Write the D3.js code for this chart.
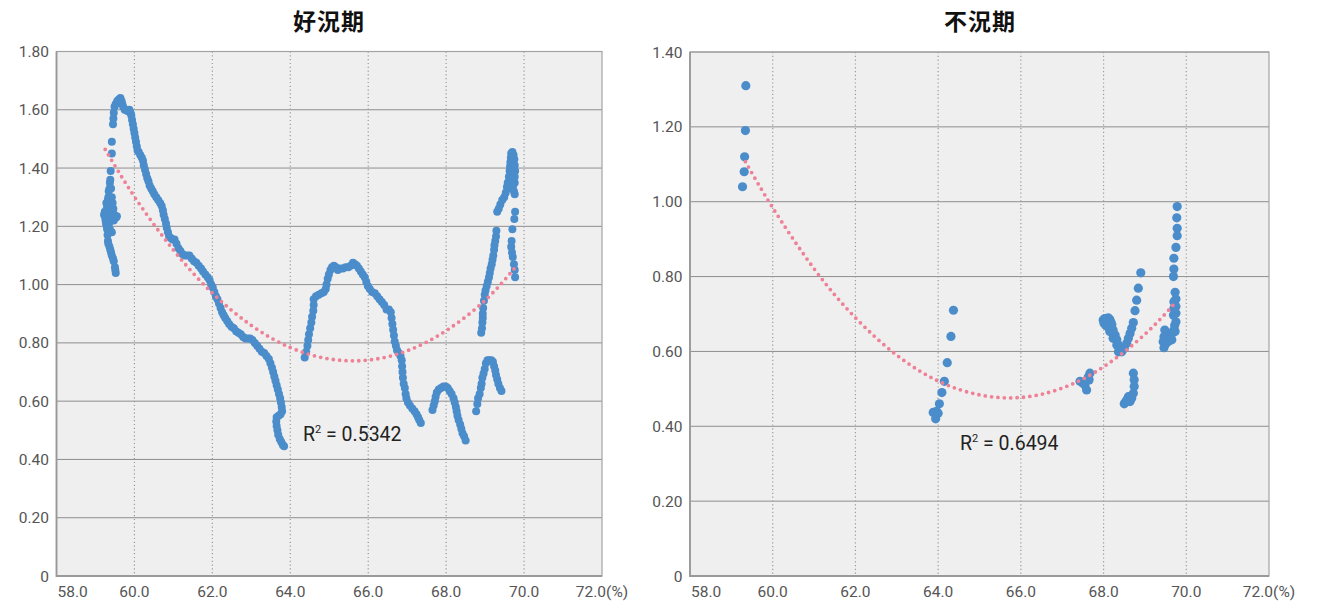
<!DOCTYPE html>
<html>
<head>
<meta charset="utf-8">
<style>
body { margin: 0; background: #fff; }
text { font-family: Roboto, "Noto Sans", sans-serif; }
</style>
</head>
<body>
<svg id="chart" width="1331" height="601"></svg>
<script src="https://cdn.jsdelivr.net/npm/d3@7/dist/d3.min.js"></script>
<script>

// 好況期 scatter [x(%), y]
var boomPoints = [
  [59.52,1.04],[59.51,1.05],[59.50,1.06],[59.47,1.08],[59.45,1.09],[59.42,1.10],[59.40,1.11],[59.38,1.12],
  [59.36,1.13],[59.33,1.14],[59.32,1.15],[59.31,1.17],[59.30,1.19],[59.29,1.20],[59.27,1.21],[59.26,1.22],
  [59.25,1.23],[59.22,1.24],[59.24,1.25],[59.27,1.24],[59.29,1.26],[59.31,1.27],[59.32,1.29],[59.33,1.30],
  [59.34,1.32],[59.36,1.33],[59.37,1.35],[59.38,1.36],[59.39,1.39],[59.42,1.45],[59.42,1.49],
  [59.47,1.22],[59.48,1.24],[59.53,1.23],[59.55,1.235],[59.46,1.26],[59.44,1.28],[59.42,1.30],[59.40,1.33],
  [59.35,1.27],[59.35,1.21],[59.33,1.23],[59.30,1.25],[59.28,1.28],[59.37,1.19],[59.42,1.18],[59.44,1.25],[59.39,1.29],
  [59.45,1.55],[59.46,1.57],[59.47,1.59],[59.49,1.61],[59.52,1.62],[59.56,1.63],[59.60,1.635],[59.64,1.64],
  [59.67,1.63],[59.69,1.62],[59.71,1.61],[59.75,1.60],[59.79,1.60],[59.83,1.595],[59.87,1.60],[59.90,1.59],
  [59.92,1.58],[59.94,1.565],[59.96,1.55],[59.98,1.535],[60.00,1.52],[60.02,1.505],[60.04,1.49],[60.06,1.475],
  [60.08,1.46],[60.11,1.455],[60.15,1.445],[60.19,1.435],[60.22,1.425],[60.24,1.41],[60.27,1.395],[60.30,1.38],
  [60.33,1.365],[60.36,1.355],[60.39,1.34],[60.43,1.33],[60.47,1.32],[60.51,1.31],[60.56,1.30],[60.61,1.29],
  [60.66,1.28],[60.70,1.27],[60.73,1.255],[60.75,1.24],[60.78,1.225],[60.81,1.21],[60.83,1.195],[60.86,1.18],
  [60.89,1.165],[60.93,1.16],[60.98,1.155],[61.03,1.155],[61.08,1.14],[61.13,1.125],[61.18,1.115],[61.23,1.105],
  [61.29,1.10],[61.35,1.10],[61.41,1.10],[61.47,1.09],[61.53,1.08],[61.59,1.075],[61.65,1.065],[61.71,1.055],
  [61.76,1.045],[61.82,1.035],[61.88,1.025],[61.93,1.015],[61.97,1.00],[62.01,0.99],[62.05,0.975],[62.09,0.96],
  [62.13,0.95],[62.17,0.935],[62.21,0.92],[62.25,0.905],[62.29,0.895],[62.33,0.885],[62.38,0.875],[62.43,0.865],
  [62.49,0.855],[62.55,0.85],[62.61,0.84],[62.67,0.835],[62.73,0.83],[62.79,0.82],[62.85,0.815],[62.91,0.815],
  [62.97,0.815],[63.03,0.81],[63.09,0.80],[63.15,0.79],[63.21,0.78],[63.27,0.77],[63.33,0.765],[63.39,0.755],
  [63.45,0.745],[63.49,0.73],[63.53,0.715],[63.56,0.70],[63.59,0.685],[63.62,0.67],[63.65,0.655],[63.68,0.64],
  [63.71,0.625],[63.74,0.61],[63.76,0.595],[63.78,0.58],[63.79,0.565],[63.75,0.555],[63.70,0.55],[63.65,0.545],
  [63.64,0.53],[63.65,0.515],[63.67,0.50],[63.69,0.485],[63.73,0.47],[63.77,0.46],[63.81,0.45],[63.84,0.445],
  [64.37,0.75],[64.41,0.77],[64.44,0.79],[64.46,0.81],[64.48,0.83],[64.51,0.85],[64.54,0.87],[64.56,0.89],
  [64.59,0.91],[64.60,0.93],[64.60,0.95],[64.66,0.96],[64.73,0.965],[64.80,0.97],[64.86,0.975],[64.91,0.985],
  [64.93,1.00],[64.96,1.02],[64.99,1.035],[65.03,1.05],[65.07,1.06],[65.12,1.065],[65.17,1.06],[65.22,1.05],
  [65.28,1.055],[65.35,1.055],[65.42,1.06],[65.49,1.06],[65.55,1.065],[65.61,1.075],[65.66,1.07],[65.71,1.065],
  [65.76,1.055],[65.81,1.045],[65.86,1.035],[65.91,1.025],[65.95,1.01],[65.99,0.995],[66.04,0.985],[66.10,0.975],
  [66.17,0.97],[66.23,0.96],[66.29,0.95],[66.35,0.94],[66.41,0.93],[66.47,0.915],[66.53,0.915],[66.58,0.905],
  [66.60,0.885],[66.62,0.865],[66.64,0.845],[66.66,0.825],[66.68,0.805],[66.71,0.79],[66.74,0.775],[66.78,0.765],
  [66.83,0.755],[66.86,0.74],[66.87,0.72],[66.88,0.70],[66.89,0.68],[66.91,0.66],[66.94,0.645],[66.96,0.625],
  [66.98,0.61],[67.02,0.595],[67.07,0.585],[67.13,0.575],[67.19,0.565],[67.24,0.555],[67.28,0.545],[67.31,0.535],[67.35,0.525],
  [67.65,0.57],[67.68,0.585],[67.71,0.60],[67.73,0.615],[67.76,0.63],[67.81,0.64],[67.87,0.645],[67.93,0.65],
  [67.99,0.65],[68.04,0.645],[68.09,0.635],[68.14,0.625],[68.19,0.61],[68.22,0.595],[68.25,0.58],[68.27,0.565],
  [68.29,0.55],[68.32,0.535],[68.36,0.52],[68.39,0.505],[68.42,0.49],[68.46,0.48],[68.50,0.465],
  [68.77,0.565],[68.80,0.59],[68.82,0.61],[68.86,0.625],[68.89,0.645],[68.91,0.66],[68.93,0.68],[68.96,0.695],
  [68.99,0.71],[69.02,0.73],[69.06,0.74],[69.11,0.74],[69.16,0.74],[69.20,0.735],[69.23,0.72],[69.26,0.705],
  [69.28,0.69],[69.31,0.675],[69.34,0.66],[69.38,0.645],[69.42,0.635],
  [68.90,0.835],[68.92,0.85],[68.93,0.87],[68.94,0.885],[68.94,0.90],[68.95,0.92],[68.97,0.945],[68.99,0.965],
  [69.01,0.98],[69.04,0.995],[69.07,1.01],[69.10,1.025],[69.12,1.04],[69.14,1.055],[69.17,1.07],[69.19,1.085],
  [69.21,1.10],[69.23,1.12],[69.24,1.135],[69.26,1.15],[69.28,1.165],[69.29,1.185],[69.31,1.25],[69.35,1.26],
  [69.39,1.275],[69.44,1.29],[69.49,1.30],[69.53,1.315],[69.56,1.335],[69.58,1.35],[69.61,1.37],[69.63,1.39],
  [69.64,1.405],[69.65,1.42],[69.66,1.435],[69.67,1.45],[69.70,1.455],[69.73,1.445],[69.75,1.43],[69.76,1.41],
  [69.77,1.39],[69.76,1.37],[69.76,1.35],[69.72,1.34],[69.68,1.33],[69.70,1.36],[69.74,1.32],[69.76,1.31],
  [69.77,1.25],[69.75,1.225],[69.70,1.19],[69.68,1.15],[69.67,1.13],[69.69,1.11],[69.71,1.095],[69.74,1.07],
  [69.76,1.05],[69.77,1.025]
];

// 不況期 scatter [x(%), y]
var slumpPoints = [
  [59.27,1.04],[59.31,1.08],[59.32,1.12],[59.34,1.19],[59.35,1.31],
  [63.88,0.437],[63.94,0.42],[63.96,0.44],[64.00,0.435],[64.03,0.46],[64.09,0.49],[64.15,0.52],[64.22,0.57],
  [64.31,0.64],[64.37,0.71],
  [67.43,0.52],[67.50,0.515],[67.55,0.51],[67.59,0.497],[67.63,0.532],[67.65,0.524],[67.67,0.542],
  [67.99,0.684],[68.03,0.688],[68.07,0.688],[68.11,0.69],[68.15,0.686],[68.01,0.675],[68.05,0.67],[68.10,0.666],
  [68.18,0.678],[68.20,0.671],[68.15,0.653],[68.23,0.657],[68.28,0.644],[68.23,0.635],[68.32,0.631],[68.36,0.617],
  [68.32,0.617],[68.40,0.604],[68.36,0.599],[68.44,0.599],[68.50,0.608],[68.56,0.622],[68.60,0.635],[68.64,0.648],
  [68.68,0.662],[68.72,0.677],[68.76,0.709],[68.80,0.737],[68.84,0.769],[68.90,0.810],
  [68.72,0.542],[68.74,0.524],[68.74,0.506],[68.72,0.488],[68.68,0.475],[68.64,0.466],[68.60,0.479],[68.56,0.470],
  [68.50,0.460],[68.53,0.465],
  [69.78,0.987],[69.77,0.957],[69.78,0.929],[69.78,0.909],[69.75,0.878],[69.70,0.849],[69.70,0.820],[69.69,0.800],
  [69.73,0.758],[69.75,0.740],[69.75,0.720],[69.75,0.702],[69.75,0.679],[69.73,0.653],[69.65,0.648],[69.56,0.648],
  [69.48,0.657],[69.46,0.639],[69.44,0.626],[69.46,0.610],[69.56,0.626],[69.65,0.631],[69.70,0.657],[69.69,0.697],
  [69.70,0.715],[69.70,0.733],[69.72,0.67],[69.60,0.64],[69.50,0.62]
];

// 多項式近似
var boomTrendX = [59.25, 60, 61, 62, 63, 64, 65, 66, 67, 68, 69, 69.78];
var boomTrendY = [1.464, 1.302, 1.119, 0.971, 0.860, 0.784, 0.745, 0.741, 0.773, 0.842, 0.946, 1.06];
var slumpTrendX = [59.34, 60, 61, 62, 63, 64, 65, 66, 67, 68, 69, 69.75];
var slumpTrendY = [1.107, 0.984, 0.821, 0.690, 0.590, 0.521, 0.484, 0.477, 0.502, 0.559, 0.646, 0.732];

var titles = ["好況期", "不況期"];
var r2Labels = ["0.5342", "0.6494"];
var xTicks = [58, 60, 62, 64, 66, 68, 70, 72];
var boomYTicks = [0, 0.2, 0.4, 0.6, 0.8, 1.0, 1.2, 1.4, 1.6, 1.8];
var slumpYTicks = [0, 0.2, 0.4, 0.6, 0.8, 1.0, 1.2, 1.4];

var svg = d3.select("#chart");

var panels = [
  { title: titles[0], pts: boomPoints, tx: boomTrendX, ty: boomTrendY, yTicks: boomYTicks,
    left: 56.5, right: 602, top: 51.5, bottom: 576, r: 4, r2: r2Labels[0], r2x: 303, r2y: 441, titleX: 329 },
  { title: titles[1], pts: slumpPoints, tx: slumpTrendX, ty: slumpTrendY, yTicks: slumpYTicks,
    left: 690, right: 1269, top: 52, bottom: 576, r: 4.6, r2: r2Labels[1], r2x: 960, r2y: 450, titleX: 980 }
];

panels.forEach(function (p) {
  var x = d3.scaleLinear().domain([58, 72]).range([p.left, p.right]);
  var y = d3.scaleLinear().domain([0, d3.max(p.yTicks)]).range([p.bottom, p.top]);
  var g = svg.append("g");

  g.append("rect")
    .attr("x", p.left).attr("y", p.top)
    .attr("width", p.right - p.left).attr("height", p.bottom - p.top)
    .attr("fill", "#efefef");

  // horizontal grid
  g.selectAll(".hg").data(p.yTicks.slice(1)).enter().append("line")
    .attr("x1", p.left).attr("x2", p.right)
    .attr("y1", function (d) { return y(d); }).attr("y2", function (d) { return y(d); })
    .attr("stroke", "#8e8e8e").attr("stroke-width", 1);

  // vertical dotted grid
  g.selectAll(".vg").data(xTicks.slice(1, -1)).enter().append("line")
    .attr("x1", function (d) { return x(d); }).attr("x2", function (d) { return x(d); })
    .attr("y1", p.top).attr("y2", p.bottom)
    .attr("stroke", "#9a9a9a").attr("stroke-width", 1.2)
    .attr("stroke-dasharray", "1.2,2.6");

  g.append("rect")
    .attr("x", p.left).attr("y", p.top)
    .attr("width", p.right - p.left).attr("height", p.bottom - p.top)
    .attr("fill", "none").attr("stroke", "#a3a3a3").attr("stroke-width", 1.2);
  g.append("path")
    .attr("d", "M" + p.left + "," + p.top + "V" + p.bottom + "H" + p.right)
    .attr("fill", "none").attr("stroke", "#999").attr("stroke-width", 1.8);

  // y labels
  g.selectAll(".yl").data(p.yTicks).enter().append("text")
    .attr("x", p.left - 7.5).attr("y", function (d) { return y(d); })
    .attr("dy", "0.36em").attr("text-anchor", "end")
    .attr("font-size", 15.5).attr("fill", "#555")
    .text(function (d) { return d === 0 ? "0" : d3.format(".2f")(d); });

  // x labels
  g.selectAll(".xl").data(xTicks).enter().append("text")
    .attr("x", function (d, i) { return i === 0 ? x(d) + 1 : x(d); })
    .attr("y", p.bottom + 21)
    .attr("text-anchor", function (d, i) { return i === 0 ? "start" : "middle"; })
    .attr("font-size", 15.5).attr("fill", "#555")
    .text(function (d, i) { return d3.format(".1f")(d) + (i === xTicks.length - 1 ? "(%)" : ""); });

  // points
  g.selectAll(".pt").data(p.pts).enter().append("circle")
    .attr("cx", function (d) { return x(d[0]); })
    .attr("cy", function (d) { return y(d[1]); })
    .attr("r", p.r)
    .attr("fill", "#4b8dcb");

  // trend
  var line = d3.line()
    .x(function (d, i) { return x(p.tx[i]); })
    .y(function (d) { return y(d); })
    .curve(d3.curveNatural);
  g.append("path")
    .attr("d", line(p.ty))
    .attr("fill", "none")
    .attr("stroke", "#ee8196").attr("stroke-width", 3.8)
    .attr("stroke-linecap", "round")
    .attr("stroke-dasharray", "0,6.4");

  // R^2
  var t = g.append("text").attr("x", p.r2x).attr("y", p.r2y)
    .attr("font-size", 19.5).attr("fill", "#222");
  t.append("tspan").text("R");
  t.append("tspan").attr("font-size", 11).attr("dy", -8).text("2");
  t.append("tspan").attr("dy", 8).text(" = " + p.r2);

  // title
  svg.append("text")
    .attr("x", p.titleX).attr("y", 30)
    .attr("text-anchor", "middle")
    .attr("font-size", 23).attr("font-weight", "bold")
    .attr("letter-spacing", 1)
    .style("font-family", "'Noto Sans CJK JP', sans-serif")
    .attr("fill", "#111")
    .text(p.title);
});

</script>
</body>
</html>
